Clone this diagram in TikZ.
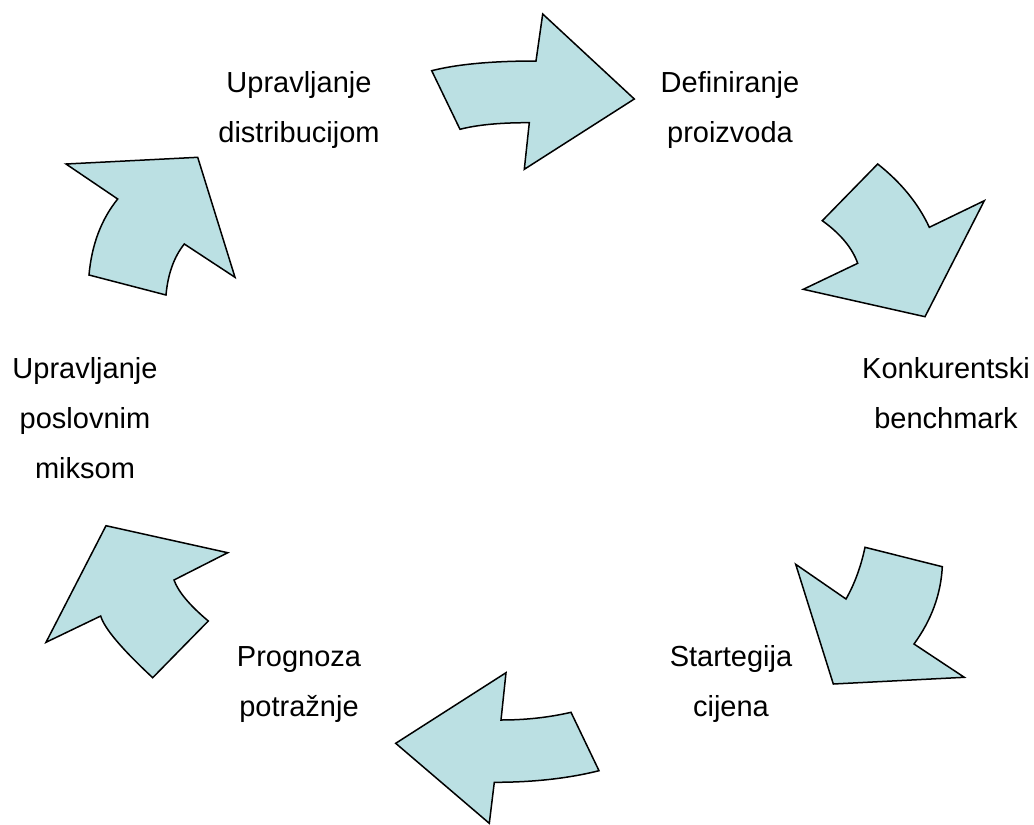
\documentclass[tikz,border=0pt]{standalone}
\usepackage{fontspec}
\setmainfont{Liberation Sans}
\begin{document}
\begin{tikzpicture}[x=1pt,y=-1pt,
  arrowshape/.style={draw=black,line width=1.5pt,fill=arrowfill,line join=miter},
  lbl/.style={align=center,anchor=base,inner sep=0pt,font=\fontsize{29}{50}\selectfont}]
\definecolor{arrowfill}{RGB}{187,224,227}
\useasboundingbox (0,0) rectangle (1034,825);
% arrow 1 (top)
\draw[arrowshape] (431.7,70.7) .. controls (457.2,64.2) and (492,61) .. (536,61) -- (542.7,14) -- (634.3,99)
  -- (524.3,169.3) -- (529.3,122.7) .. controls (500.4,122.6) and (477.3,124.8) .. (460,129.3) -- cycle;
% arrow 2 (upper right)
\draw[arrowshape] (877.7,164) .. controls (901.2,182.6) and (918.4,203.7) .. (929.3,227.3) -- (984.3,200.7)
  -- (925,316.7) -- (803.3,289.3) -- (857.7,263.3) .. controls (852.2,247.9) and (840.4,233.7) .. (822.3,220.7) -- cycle;
% arrow 3 (lower right)
\draw[arrowshape] (865,547.3) -- (942.3,566.7) .. controls (940.9,594.2) and (931.5,620) .. (914,644) -- (964.3,677.3)
  -- (833.3,684) -- (795.7,564.3) -- (846,599) .. controls (854.6,583.9) and (860.9,566.7) .. cycle;
% arrow 4 (bottom)
\draw[arrowshape] (506,672.7) -- (501,720) .. controls (525.7,720) and (549,717.4) .. (571,712.3) -- (599,770.7)
  .. controls (568.3,778.4) and (533.4,782.3) .. (494.3,782.3) -- (489.3,823.3) -- (395.7,743.3) -- cycle;
% arrow 5 (lower left)
\draw[arrowshape] (106,525.7) -- (227.7,552.7) -- (174,580) .. controls (178.2,591.7) and (189.6,605.3) .. (208.3,621)
  -- (152.7,677.7) .. controls (121.6,648.8) and (104.2,628.2) .. (100.7,616) -- (46,642.3) -- cycle;
% arrow 6 (upper left)
\draw[arrowshape] (66,164) -- (197.7,157.3) -- (235,277.3) -- (184.3,244) .. controls (174,256.9) and (167.9,273.9) .. (166,295)
  -- (89,275) .. controls (91.7,244.6) and (101.3,219.3) .. (117.7,199) -- cycle;
% labels (anchor=base sits on the last line's baseline)
\node[lbl] (distr) at (299,142) {Upravljanje\\distribucijom};
\node[lbl] (defin) at (730,142) {Definiranje\\proizvoda};
\node[lbl] (konk) at (946,428) {Konkurentski\\benchmark};
\node[lbl] (strat) at (731,716) {Startegija\\cijena};
\node[lbl] (progn) at (299,716) {Prognoza\\potražnje};
\node[lbl] (miks) at (85,478) {Upravljanje\\poslovnim\\miksom};
\end{tikzpicture}
\end{document}
